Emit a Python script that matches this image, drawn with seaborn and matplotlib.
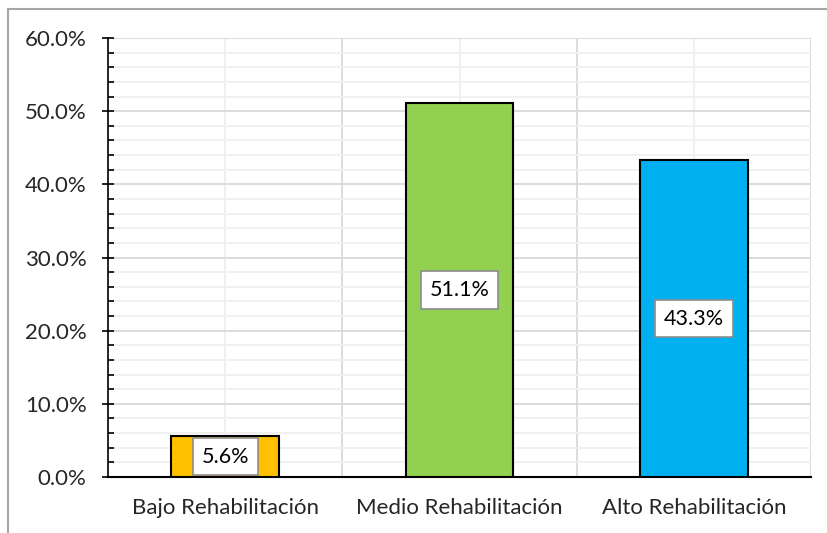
import matplotlib
matplotlib.use("Agg")
import matplotlib.pyplot as plt
import seaborn as sns
from matplotlib.ticker import MultipleLocator, PercentFormatter, FixedLocator
from matplotlib.patches import Rectangle

categories = ["Bajo Rehabilitación", "Medio Rehabilitación", "Alto Rehabilitación"]
values = [5.6, 51.1, 43.3]
labels = ["5.6%", "51.1%", "43.3%"]
colors = ["#FFC000", "#92D050", "#00B0F0"]

sns.set_style("white")
plt.rcParams['font.family'] = ['Lato', 'DejaVu Sans']

fig = plt.figure(figsize=(8.27, 5.33), dpi=100)
ax = fig.add_axes([108/827, 56/533, 703/827, 439/533])

sns.barplot(x=categories, y=values, hue=categories, palette=colors, legend=False, saturation=1,
            width=0.46, edgecolor="black", linewidth=1.5, ax=ax, zorder=3)

for i, (v, lab) in enumerate(zip(values, labels)):
    ax.text(i, v / 2, lab, ha="center", va="center", fontsize=15.5, color="black", zorder=5,
            bbox=dict(boxstyle="square,pad=0.4", facecolor="white", edgecolor="#8c8c8c", linewidth=1.2))

ax.set_xlim(-0.5, 2.5)
ax.set_ylim(0, 60)
ax.yaxis.set_major_locator(MultipleLocator(10))
ax.yaxis.set_minor_locator(MultipleLocator(2))
ax.yaxis.set_major_formatter(PercentFormatter(decimals=1))

ax.xaxis.set_major_locator(FixedLocator([0, 1, 2]))
ax.xaxis.set_minor_locator(FixedLocator([0.5, 1.5, 2.5]))

ax.grid(which="major", axis="y", color="#d9d9d9", linewidth=1.3, zorder=0)
ax.grid(which="minor", axis="y", color="#f0f0f0", linewidth=1.3, zorder=0)
ax.grid(which="major", axis="x", color="#efefef", linewidth=1.3, zorder=0)
ax.grid(which="minor", axis="x", color="#d9d9d9", linewidth=1.3, zorder=0)
ax.set_axisbelow(True)

ax.tick_params(axis="y", which="major", left=True, direction="inout", length=9, width=1.2,
               color="black", labelsize=16, pad=11)
ax.tick_params(axis="y", which="minor", left=True, direction="in", length=4.5, width=1.2, color="black")
ax.tick_params(axis="x", which="both", length=0, labelsize=16, pad=15)

for side in ["top", "right"]:
    ax.spines[side].set_visible(False)
ax.spines["left"].set_color("black")
ax.spines["left"].set_linewidth(1.2)
ax.spines["bottom"].set_color("black")
ax.spines["bottom"].set_linewidth(1.5)
ax.set_xlabel("")
ax.set_ylabel("")

fig.add_artist(Rectangle((8/827, -0.05), 1.0, (533 - 9)/533 + 0.05, transform=fig.transFigure,
                         fill=False, edgecolor="#a6a6a6", linewidth=1.5))

fig.savefig("out.png", dpi=100)
